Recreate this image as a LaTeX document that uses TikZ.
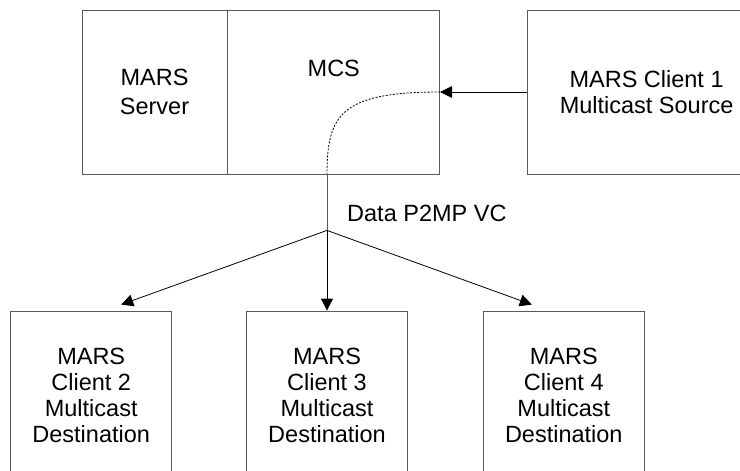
\documentclass[tikz,border=0pt]{standalone}
\usepackage{fontspec}
\setmainfont{Liberation Sans}
\usetikzlibrary{positioning,arrows.meta}
\tikzset{
    every node/.style={font=\fontsize{23.5}{26}\selectfont},
    greybox/.style={draw=black!65, line width=0.8pt, align=center, inner sep=0pt},
    topbox/.style={greybox, minimum height=164pt},
    clientbox/.style={greybox, minimum width=161pt, minimum height=169pt},
    arrow/.style={-{Triangle[length=12pt,width=12pt]}, line width=0.8pt},
    vcline/.style={draw=black!65, line width=0.8pt},
    dotline/.style={line width=0.8pt, dash pattern=on 2pt off 1.5pt},
}

\begin{document}
\begin{tikzpicture}[x=1pt,y=-1pt]
\useasboundingbox (0,0) rectangle (740,471);
\clip (0,0) rectangle (740,471);

% top row
\node[topbox, minimum width=145pt] (server) at (154.5,92) {MARS\\[3pt]Server};
\node[topbox, minimum width=212pt, right=0pt of server] (mcs) {};
\node[inner sep=0pt, below=50pt of mcs.north] (mcstext) {MCS};
\node[topbox, minimum width=238pt, right=87pt of mcs] (client1) {MARS Client 1\\Multicast Source};

% bottom row
\node[clientbox] (client3) at (327,395.5) {MARS\\Client 3\\Multicast\\Destination};
\node[clientbox, left=74pt of client3] (client2) {MARS\\Client 2\\Multicast\\Destination};
\node[clientbox, right=75pt of client3] (client4) {MARS\\Client 4\\Multicast\\Destination};

\coordinate (tap) at (mcs.south -| client3.north);
\coordinate[below=56pt of tap] (fork);
\coordinate[above right=6pt and 30pt of client2.north] (in2);
\coordinate[above left=6pt and 32pt of client4.north] (in4);
\node[inner sep=0pt, above right=8pt and 20pt of fork] (vclabel) {Data P2MP VC};

\draw[arrow] (client1) -- (mcs);
\draw[dotline] (mcs.east) .. controls +(-99,0) and +(0,-60) .. (tap);
\draw[vcline] (tap) -- (fork);
\draw[arrow] (fork) -- (in2);
\draw[arrow] (fork) -- (client3);
\draw[arrow] (fork) -- (in4);

\end{tikzpicture}
\end{document}
